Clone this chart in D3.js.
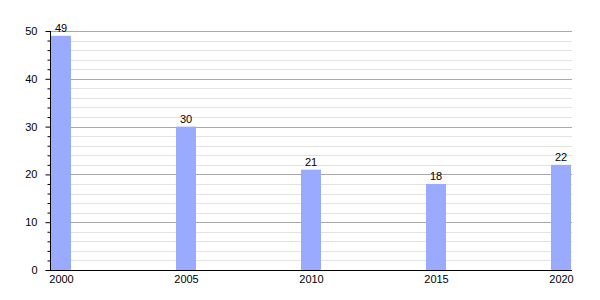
<html>
  <head>
    <script type="text/javascript" src="https://cdn.jsdelivr.net/npm/d3@7"></script>
    <style>
      body { margin: 0; background: #fff; }
      text { font-family: "Liberation Sans", Arial, sans-serif; font-size: 11px; fill: #000; }
    </style>
  </head>
  <body>
    <div id="chart"></div>
    <script type="text/javascript">
      var years = [2000, 2005, 2010, 2015, 2020];
      var values = [49, 30, 21, 18, 22];
      var yTicks = [0, 10, 20, 30, 40, 50];

      var W = 600, H = 300,
          LEFT = 50, RIGHT = 571, TOP = 31, BOTTOM = 270,
          BAR_W = 20;

      var svg = d3.select("#chart").append("svg").attr("width", W).attr("height", H);

      var x = d3.scaleLinear().domain([2000, 2020]).range([LEFT + 1 + BAR_W / 2, RIGHT - BAR_W / 2]);
      var y = d3.scaleLinear().domain([0, 50]).range([BOTTOM, TOP]);

      // minor grid every 2, major every 10
      var minor = d3.range(2, 51, 2).filter(function(d) { return d % 10 !== 0; });
      svg.append("g").selectAll("line").data(minor).enter().append("line")
        .attr("x1", LEFT).attr("x2", RIGHT + 1)
        .attr("y1", function(d) { return Math.round(y(d)) + 0.5; })
        .attr("y2", function(d) { return Math.round(y(d)) + 0.5; })
        .attr("stroke", "#e2e2e2");
      svg.append("g").selectAll("line").data(yTicks.slice(1)).enter().append("line")
        .attr("x1", LEFT).attr("x2", RIGHT + 1)
        .attr("y1", function(d) { return Math.round(y(d)) + 0.5; })
        .attr("y2", function(d) { return Math.round(y(d)) + 0.5; })
        .attr("stroke", "#a8a8a8");

      // bars
      svg.append("g").selectAll("rect").data(values).enter().append("rect")
        .attr("x", function(d, i) { return x(years[i]) - BAR_W / 2; })
        .attr("y", function(d) { return y(d); })
        .attr("width", BAR_W)
        .attr("height", function(d) { return BOTTOM - y(d); })
        .attr("fill", "#99aaff");

      // value labels
      svg.append("g").selectAll("text").data(values).enter().append("text")
        .attr("x", function(d, i) { return x(years[i]); })
        .attr("y", function(d) { return y(d) - 4; })
        .attr("text-anchor", "middle")
        .text(function(d) { return d; });

      // y axis
      var yAxis = d3.axisLeft(y).tickValues(yTicks).tickSize(5).tickPadding(8);
      var gy = svg.append("g").attr("transform", "translate(" + (LEFT + 0.5) + ",0)").call(yAxis);
      gy.select(".domain").remove();
      gy.selectAll("text").style("font-size", "11px").style("font-family", "Liberation Sans, Arial, sans-serif");
      gy.selectAll("line").attr("stroke", "#000");
      var yMinor = d3.axisLeft(y).tickValues(minor).tickSize(3).tickFormat("");
      var gm = svg.append("g").attr("transform", "translate(" + (LEFT + 0.5) + ",0)").call(yMinor);
      gm.select(".domain").remove();
      svg.append("line").attr("x1", LEFT + 0.5).attr("x2", LEFT + 0.5)
        .attr("y1", TOP).attr("y2", BOTTOM + 1).attr("stroke", "#000");

      // x axis
      var xAxis = d3.axisBottom(x).tickValues(years).tickFormat(d3.format("d")).tickSize(0).tickPadding(5);
      var gx = svg.append("g").attr("transform", "translate(0," + (BOTTOM + 0.5) + ")").call(xAxis);
      gx.select(".domain").remove();
      gx.selectAll("text").style("font-size", "11px").style("font-family", "Liberation Sans, Arial, sans-serif");
      svg.append("line").attr("x1", LEFT).attr("x2", RIGHT + 1)
        .attr("y1", BOTTOM + 0.5).attr("y2", BOTTOM + 0.5).attr("stroke", "#000");
    </script>
  </body>
</html>
